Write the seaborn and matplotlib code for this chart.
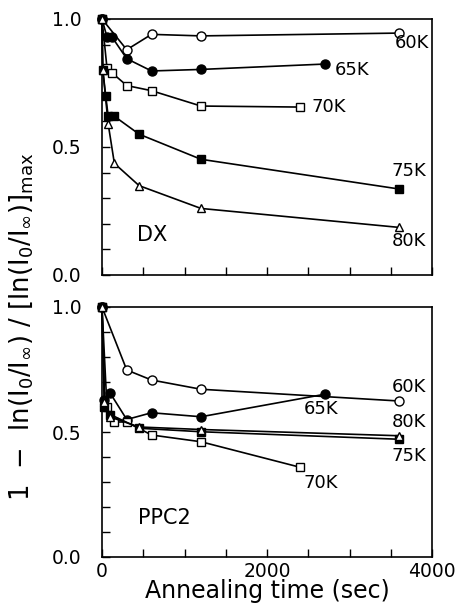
import numpy as np
import pandas as pd
import matplotlib
matplotlib.use("Agg")
import matplotlib.pyplot as plt
import seaborn as sns
from matplotlib.ticker import MultipleLocator

# ---------------- data ----------------
# DX panel
dx_60_t = [0, 300, 600, 1200, 3600]
dx_60_v = [1.0, 0.88, 0.94, 0.934, 0.945]
dx_65_t = [0, 60, 120, 300, 600, 1200, 2700]
dx_65_v = [1.0, 0.93, 0.93, 0.845, 0.797, 0.803, 0.824]
dx_70_t = [0, 60, 120, 300, 600, 1200, 2400]
dx_70_v = [1.0, 0.81, 0.79, 0.74, 0.72, 0.66, 0.656]
dx_75_t = [0, 10, 45, 75, 150, 450, 1200, 3600]
dx_75_v = [1.0, 0.80, 0.70, 0.62, 0.62, 0.55, 0.452, 0.336]
dx_80_t = [0, 10, 75, 150, 450, 1200, 3600]
dx_80_v = [1.0, 0.80, 0.59, 0.436, 0.349, 0.26, 0.186]

# PPC2 panel
pp_60_t = [0, 300, 600, 1200, 3600]
pp_60_v = [1.0, 0.748, 0.708, 0.671, 0.624]
pp_65_t = [0, 30, 100, 300, 600, 1200, 2700]
pp_65_v = [1.0, 0.63, 0.655, 0.55, 0.577, 0.561, 0.651]
pp_70_t = [0, 60, 150, 300, 600, 1200, 2400]
pp_70_v = [1.0, 0.60, 0.54, 0.54, 0.488, 0.461, 0.359]
pp_75_t = [0, 30, 100, 450, 1200, 3600]
pp_75_v = [1.0, 0.60, 0.57, 0.515, 0.501, 0.471]
pp_80_t = [0, 30, 100, 450, 1200, 3600]
pp_80_v = [1.0, 0.62, 0.56, 0.52, 0.51, 0.485]

series_names = ["60K", "65K", "70K", "75K", "80K"]
markers = {"60K": "o", "65K": "o", "70K": "s", "75K": "s", "80K": "^"}
filled = {"60K": False, "65K": True, "70K": False, "75K": True, "80K": False}
msize = {"60K": 6.5, "65K": 6.5, "70K": 5.5, "75K": 5.5, "80K": 6}

dx_data = {"60K": (dx_60_t, dx_60_v), "65K": (dx_65_t, dx_65_v), "70K": (dx_70_t, dx_70_v),
           "75K": (dx_75_t, dx_75_v), "80K": (dx_80_t, dx_80_v)}
pp_data = {"60K": (pp_60_t, pp_60_v), "65K": (pp_65_t, pp_65_v), "70K": (pp_70_t, pp_70_v),
           "75K": (pp_75_t, pp_75_v), "80K": (pp_80_t, pp_80_v)}

# label positions (data coords)
dx_labels = {"60K": (3760, 0.905), "65K": (3030, 0.80), "70K": (2750, 0.655),
             "75K": (3720, 0.405), "80K": (3720, 0.133)}
pp_labels = {"60K": (3720, 0.68), "65K": (2650, 0.59), "70K": (2650, 0.296),
             "75K": (3720, 0.404), "80K": (3720, 0.54)}

# ---------------- plotting ----------------
sns.set_theme(style="ticks")
plt.rcParams["font.family"] = ["DejaVu Sans"]
plt.rcParams["mathtext.default"] = "regular"
plt.rcParams["text.color"] = "black"
plt.rcParams["axes.labelcolor"] = "black"
plt.rcParams["xtick.color"] = "black"
plt.rcParams["ytick.color"] = "black"

fig = plt.figure(figsize=(4.57, 6.03), dpi=100)
L, W = 102 / 457, 330 / 457
ax1 = fig.add_axes([L, 1 - 275 / 603, W, 256 / 603])
ax2 = fig.add_axes([L, 1 - 557 / 603, W, 250 / 603])


def draw(ax, data, labels, panel_name, name_xy):
    for name in series_names:
        t, v = data[name]
        df = pd.DataFrame({"t": t, "v": v})
        sns.lineplot(data=df, x="t", y="v", ax=ax, color="black", lw=1.2,
                     marker=markers[name], markersize=msize[name],
                     markerfacecolor="black" if filled[name] else "white",
                     markeredgecolor="black", markeredgewidth=1.0,
                     estimator=None, sort=False, clip_on=False, zorder=3)
        lx, ly = labels[name]
        ax.text(lx, ly, name, ha="center", va="center", fontsize=13, color="black")
    ax.text(name_xy[0], name_xy[1], panel_name, ha="center", va="center",
            fontsize=15, color="black")
    ax.set_xlim(0, 4000)
    ax.set_ylim(0, 1.0)
    ax.set_xlabel("")
    ax.set_ylabel("")
    ax.xaxis.set_major_locator(MultipleLocator(500))
    ax.yaxis.set_minor_locator(MultipleLocator(0.1))
    ax.tick_params(axis="both", which="both", direction="in", length=6, width=1,
                   top=False, right=False, labelsize=13.5, colors="black")
    ax.tick_params(axis="y", which="both", pad=15)
    for s in ax.spines.values():
        s.set_color("black")
        s.set_linewidth(1.2)
    ax.set_yticks([0.0, 0.5, 1.0])
    ax.set_yticklabels(["0.0", "0.5", "1.0"])


draw(ax1, dx_data, dx_labels, "DX", (610, 0.156))
draw(ax2, pp_data, pp_labels, "PPC2", (760, 0.155))

ax1.set_xticklabels([])
ax2.set_xticks(np.arange(0, 4001, 500))
ax2.set_xticklabels(["0", "", "", "", "2000", "", "", "", "4000"])
ax2.set_xlabel("Annealing time (sec)", fontsize=17, labelpad=-1, color="black")

fig.text(0.045, 0.458,
         r"1  $-$  ln(I$_0$/I$_\infty$) / [ln(I$_0$/I$_\infty$)]$_{max}$",
         rotation=90, ha="center", va="center", fontsize=18.5, color="black")

fig.savefig("out.png", dpi=100)
